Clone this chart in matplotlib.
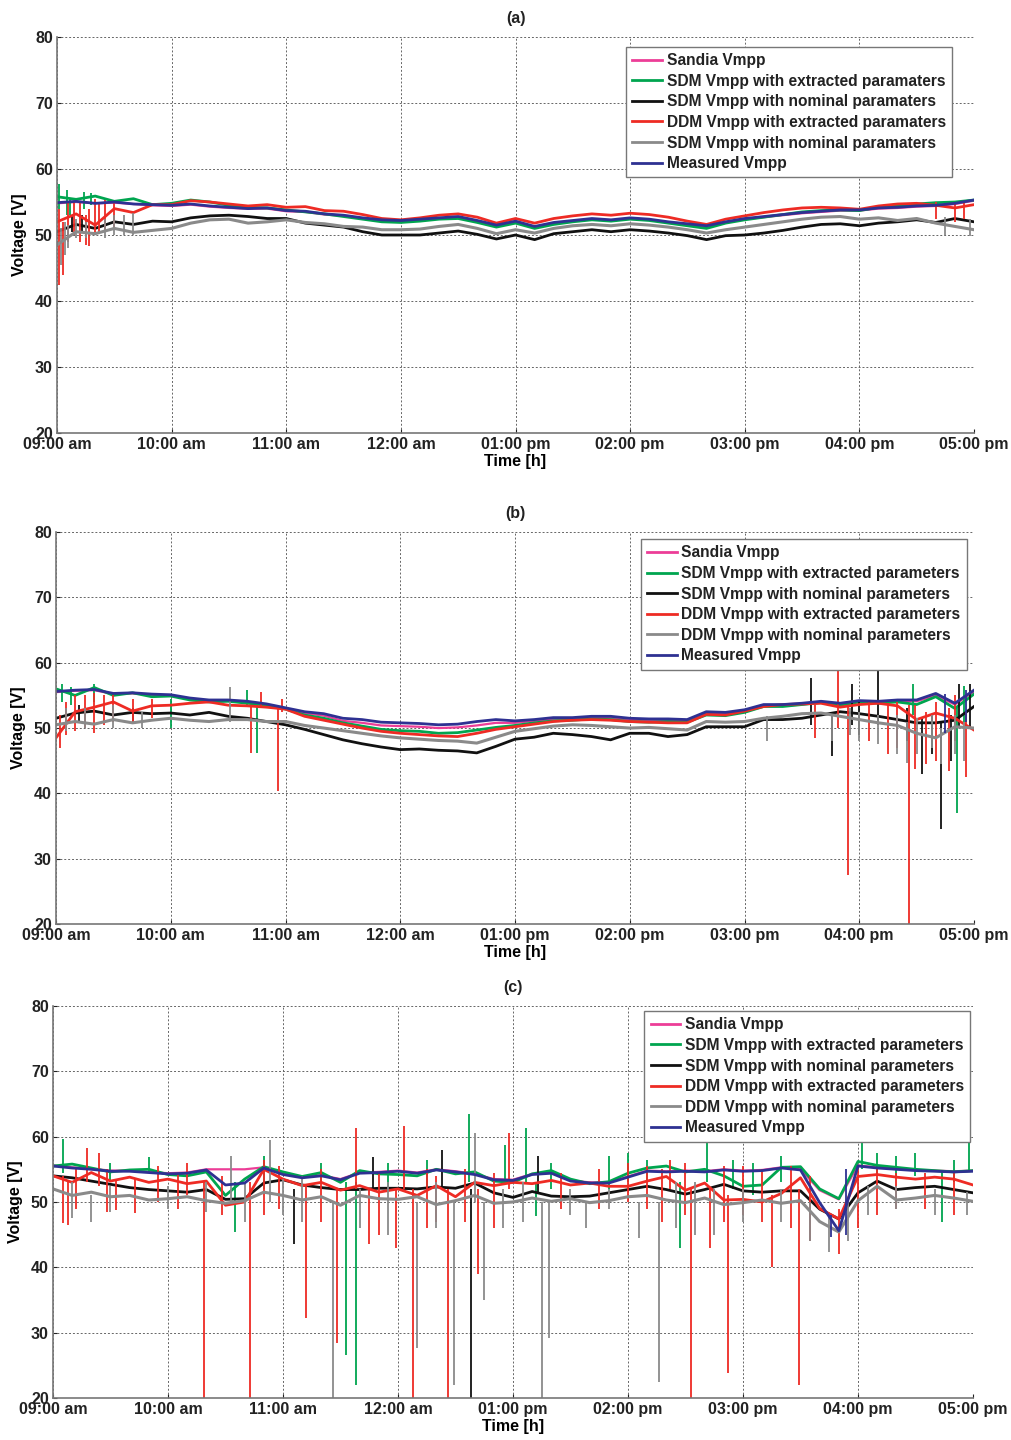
import numpy as np
import matplotlib
matplotlib.use('Agg')
import matplotlib.pyplot as plt

plt.rcParams['font.family'] = ['Liberation Sans', 'DejaVu Sans']
plt.rcParams['font.weight'] = 'bold'
plt.rcParams['text.color'] = '#222222'

# minutes after 09:00, one reading every 10 min
minutos = np.arange(0, 481, 10)

horas = [9, 10, 11, 12, 13, 14, 15, 16, 17]
etiquetas_hora = ['09:00 am', '10:00 am', '11:00 am', '12:00 am', '01:00 pm',
                  '02:00 pm', '03:00 pm', '04:00 pm', '05:00 pm']

# ---------------- (a) ----------------
sandia_a = [54.8, 55.0, 54.8, 54.9, 54.7, 54.5, 54.4, 54.6, 54.3, 54.1, 54.0, 54.0, 53.6,
            53.5, 53.1, 52.9, 52.5, 52.2, 52.1, 52.3, 52.5, 52.7, 52.1, 51.4, 52.0, 51.2,
            51.8, 52.1, 52.4, 52.2, 52.5, 52.3, 51.9, 51.6, 51.2, 51.9, 52.4, 52.7, 53.0,
            53.3, 53.5, 53.7, 53.7, 54.0, 54.1, 54.3, 54.4, 54.7, 55.2]
sdm_ext_a = [55.8, 55.4, 55.9, 55.1, 55.5, 54.6, 54.8, 55.3, 55.0, 54.5, 54.2, 54.1, 53.8,
             53.5, 53.2, 52.8, 52.4, 52.0, 51.9, 52.1, 52.4, 52.5, 51.9, 51.2, 51.8, 51.0,
             51.6, 52.0, 52.3, 52.1, 52.4, 52.2, 51.8, 51.4, 51.0, 51.8, 52.3, 52.7, 53.1,
             53.5, 53.7, 53.8, 53.7, 54.2, 54.5, 54.7, 54.9, 55.0, 55.3]
sdm_nom_a = [50.5, 51.6, 51.0, 52.0, 51.6, 52.1, 52.0, 52.6, 52.9, 53.0, 52.8, 52.5, 52.5,
             51.8, 51.5, 51.2, 50.5, 50.0, 50.0, 50.0, 50.3, 50.6, 50.1, 49.4, 50.0, 49.3,
             50.2, 50.5, 50.8, 50.5, 50.8, 50.6, 50.3, 49.9, 49.3, 49.9, 50.0, 50.3, 50.7,
             51.2, 51.6, 51.7, 51.4, 51.8, 52.0, 52.3, 51.9, 52.5, 52.0]
ddm_ext_a = [52.0, 53.2, 51.5, 54.0, 53.4, 54.6, 54.6, 55.2, 55.0, 54.7, 54.4, 54.6, 54.2,
             54.3, 53.7, 53.6, 53.1, 52.5, 52.3, 52.6, 53.0, 53.2, 52.7, 51.8, 52.5, 51.8,
             52.5, 52.9, 53.2, 53.0, 53.3, 53.1, 52.7, 52.1, 51.6, 52.4, 52.9, 53.4, 53.8,
             54.1, 54.2, 54.1, 53.9, 54.4, 54.7, 54.8, 54.5, 54.1, 54.6]
nom2_a = [48.5, 50.5, 50.2, 51.0, 50.4, 50.7, 51.0, 51.8, 52.3, 52.4, 51.8, 52.0, 52.3,
          51.9, 51.7, 51.3, 51.2, 50.8, 50.8, 50.9, 51.3, 51.6, 51.0, 50.2, 50.8, 50.3,
          51.0, 51.4, 51.6, 51.4, 51.7, 51.5, 51.2, 50.8, 50.3, 50.8, 51.2, 51.6, 52.0,
          52.4, 52.7, 52.8, 52.4, 52.6, 52.2, 52.5, 51.8, 51.3, 50.8]
medido_a = [54.9, 55.1, 54.8, 55.0, 54.7, 54.6, 54.5, 54.7, 54.4, 54.2, 54.0, 54.1, 53.7,
            53.6, 53.2, 53.0, 52.6, 52.3, 52.2, 52.4, 52.6, 52.8, 52.2, 51.5, 52.1, 51.3,
            51.9, 52.2, 52.5, 52.3, 52.6, 52.4, 52.0, 51.7, 51.4, 52.0, 52.5, 52.8, 53.1,
            53.4, 53.6, 53.8, 53.8, 54.1, 54.2, 54.4, 54.5, 54.8, 55.3]

# spikes: (minute, low, high)
picos_sdm_ext_a = [(1, 54.0, 57.8), (5, 53.0, 56.8), (7, 53.0, 55.5), (14, 54.0, 56.5),
                   (18, 54.5, 56.4)]
picos_sdm_nom_a = [(8, 50.5, 53.0), (13, 50.5, 53.0)]
picos_ddm_ext_a = [(1, 42.5, 54.0), (3, 44.0, 52.0), (6, 49.0, 54.8), (9, 50.0, 55.0),
                   (12, 49.0, 55.0), (15, 48.5, 53.0), (17, 48.4, 54.0), (20, 50.0, 55.5),
                   (22, 50.5, 55.0), (25, 50.5, 55.3), (30, 51.0, 55.0), (460, 52.5, 55.0),
                   (470, 52.0, 55.0), (475, 52.5, 54.8)]
picos_nom2_a = [(2, 45.5, 51.0), (4, 47.0, 52.0), (6, 48.0, 51.5), (10, 49.5, 52.5),
                (15, 49.5, 52.0), (25, 49.5, 52.5), (30, 50.0, 53.0), (35, 50.0, 53.0),
                (40, 50.0, 53.3), (465, 50.0, 52.8), (478, 49.8, 52.5)]

# ---------------- (b) ----------------
sandia_b = [55.5, 55.7, 55.8, 55.2, 55.3, 55.1, 55.0, 54.5, 54.2, 54.2, 54.0, 53.6, 53.0,
            52.3, 51.9, 51.1, 50.8, 50.4, 50.3, 50.2, 50.0, 50.1, 50.4, 50.8, 50.8, 51.1,
            51.4, 51.4, 51.6, 51.6, 51.3, 51.2, 51.2, 51.1, 52.3, 52.2, 52.6, 53.4, 53.4,
            53.6, 53.9, 53.6, 54.0, 53.9, 54.1, 54.1, 55.0, 53.6, 55.6]
sdm_ext_b = [56.0, 55.0, 56.2, 55.0, 55.4, 54.8, 54.9, 54.3, 54.0, 54.1, 53.8, 53.5, 52.9,
             52.0, 51.5, 50.8, 50.3, 49.8, 49.6, 49.5, 49.2, 49.3, 49.7, 50.1, 50.4, 50.8,
             51.1, 51.2, 51.4, 51.3, 51.0, 50.9, 51.0, 50.9, 52.0, 51.9, 52.4, 53.3, 53.3,
             53.6, 53.9, 53.5, 54.0, 53.8, 54.0, 53.6, 54.8, 53.0, 55.2]
sdm_nom_b = [51.5, 52.3, 52.6, 52.0, 52.4, 52.2, 52.3, 52.0, 52.4, 51.8, 51.5, 51.0, 50.5,
             49.8, 49.0, 48.2, 47.6, 47.1, 46.7, 46.8, 46.6, 46.5, 46.2, 47.2, 48.3, 48.6,
             49.2, 49.0, 48.7, 48.2, 49.2, 49.2, 48.7, 49.0, 50.2, 50.2, 50.2, 51.3, 51.3,
             51.5, 52.0, 52.5, 52.2, 51.8, 51.3, 50.8, 50.8, 51.2, 53.3]
ddm_ext_b = [48.5, 52.5, 53.2, 54.0, 52.6, 53.4, 53.5, 53.8, 54.0, 53.5, 53.4, 53.2, 52.9,
             51.8, 51.2, 50.6, 50.0, 49.5, 49.2, 49.0, 48.8, 48.7, 49.2, 49.8, 50.2, 50.6,
             51.0, 51.2, 51.3, 51.2, 51.0, 50.9, 50.8, 50.8, 52.1, 52.0, 52.6, 53.3, 53.6,
             53.7, 53.8, 53.2, 53.6, 53.8, 53.4, 51.3, 52.3, 51.5, 49.7]
ddm_nom_b = [50.5, 51.0, 50.6, 51.3, 50.8, 51.2, 51.5, 51.2, 51.0, 51.3, 51.3, 51.0, 51.0,
             50.4, 50.0, 49.6, 49.2, 48.8, 48.5, 48.3, 48.1, 48.0, 47.7, 48.6, 49.5, 49.9,
             50.3, 50.5, 50.4, 50.2, 50.0, 50.1, 49.9, 49.7, 51.0, 50.9, 51.0, 51.5, 51.8,
             52.2, 52.3, 51.8, 51.3, 50.8, 50.4, 49.2, 48.5, 50.2, 50.0]
medido_b = [55.6, 55.8, 55.9, 55.3, 55.4, 55.2, 55.1, 54.6, 54.3, 54.3, 54.1, 53.7, 53.1,
            52.5, 52.2, 51.5, 51.3, 50.9, 50.8, 50.7, 50.5, 50.6, 51.0, 51.3, 51.1, 51.3,
            51.6, 51.6, 51.8, 51.8, 51.5, 51.4, 51.4, 51.3, 52.5, 52.4, 52.8, 53.6, 53.6,
            53.8, 54.1, 53.8, 54.2, 54.1, 54.3, 54.3, 55.3, 53.8, 55.8]

picos_sdm_ext_b = [(3, 54.0, 56.8), (8, 53.5, 56.3), (20, 54.0, 56.8), (60, 50.0, 54.5),
                   (100, 53.5, 55.8), (105, 46.2, 53.5), (448, 52.0, 56.7), (471, 37.0, 53.0),
                   (475, 51.0, 56.5)]
picos_sdm_nom_b = [(12, 51.0, 53.5), (40, 51.0, 53.0), (395, 50.5, 57.6), (406, 45.7, 52.5),
                   (416, 50.5, 56.8), (420, 49.0, 54.0), (430, 50.5, 59.4), (445, 48.0, 53.0),
                   (453, 43.0, 51.5), (458, 46.0, 52.0), (463, 34.6, 51.0), (468, 45.0, 52.0),
                   (472, 50.0, 56.8), (478, 50.0, 56.8)]
picos_ddm_ext_b = [(2, 47.0, 52.0), (5, 49.0, 54.0), (10, 49.5, 55.0), (15, 50.0, 55.0),
                   (20, 49.3, 55.3), (25, 50.5, 55.0), (30, 51.0, 55.0), (40, 51.0, 54.5),
                   (50, 51.5, 54.5), (102, 46.2, 53.5), (107, 53.0, 55.5), (116, 40.3, 53.0),
                   (118, 52.5, 54.5), (397, 48.5, 53.6), (409, 50.0, 62.0), (414, 27.5, 53.5),
                   (425, 48.0, 54.0), (435, 46.0, 53.8), (440, 47.0, 54.0), (446, 20.0, 53.5),
                   (449, 43.8, 53.5), (455, 44.5, 52.5), (460, 45.0, 54.0), (467, 43.5, 53.0),
                   (470, 48.0, 55.0), (476, 42.5, 52.5)]
picos_ddm_nom_b = [(5, 49.5, 53.0), (15, 50.0, 53.0), (30, 50.0, 53.5), (45, 50.0, 52.5),
                   (91, 51.0, 56.3), (372, 48.0, 51.8), (406, 48.0, 52.0), (415, 49.0, 53.0),
                   (420, 48.0, 52.5), (430, 47.5, 52.0), (440, 46.0, 52.0), (445, 44.7, 51.0),
                   (450, 46.0, 51.5), (458, 47.0, 52.0), (463, 44.5, 50.0), (470, 46.0, 52.0),
                   (475, 45.0, 51.0)]
picos_medido_b = [(465, 49.2, 55.2), (476, 51.0, 55.8)]

# ---------------- (c) ----------------
sandia_c = [55.6, 55.3, 55.1, 54.8, 54.8, 54.6, 54.4, 54.5, 55.0, 55.0, 55.0, 55.3, 54.3,
            53.8, 54.1, 53.5, 54.5, 54.6, 54.8, 54.5, 55.0, 54.7, 54.3, 53.5, 53.4, 54.3,
            54.5, 53.3, 53.0, 53.0, 53.9, 54.8, 54.7, 54.8, 54.7, 55.0, 54.8, 54.9, 55.3,
            55.0, 51.8, 50.4, 55.6, 55.3, 55.1, 54.9, 54.8, 54.7, 54.8]
sdm_ext_c = [55.5, 55.8, 55.2, 54.6, 54.9, 55.0, 54.2, 54.0, 54.6, 51.0, 53.5, 55.4, 54.6,
             53.9, 54.5, 53.0, 54.8, 54.3, 54.2, 54.0, 55.0, 54.3, 54.6, 53.2, 53.0, 54.3,
             54.8, 53.5, 52.8, 53.1, 54.4, 55.2, 55.5, 54.6, 55.0, 54.0, 52.4, 52.6, 55.3,
             55.4, 52.0, 50.5, 56.2, 55.6, 55.3, 55.0, 54.8, 54.6, 54.8]
sdm_nom_c = [54.0, 53.7, 53.2, 52.7, 52.2, 51.9, 51.7, 51.5, 51.9, 50.4, 50.5, 52.9, 53.4,
             52.6, 52.2, 51.9, 51.9, 52.1, 52.1, 52.0, 52.3, 52.1, 52.9, 51.4, 50.7, 51.6,
             50.9, 50.8, 50.9, 51.4, 51.9, 52.4, 51.9, 51.2, 51.9, 52.7, 51.7, 51.5, 51.7,
             51.7, 48.9, 47.4, 51.4, 53.2, 51.9, 52.2, 52.4, 51.9, 51.4]
ddm_ext_c = [54.0, 53.0, 54.5, 53.2, 53.8, 53.0, 53.5, 52.8, 53.2, 49.5, 50.0, 55.0, 53.5,
             52.5, 53.0, 51.8, 52.5, 51.5, 52.0, 51.0, 52.5, 50.8, 53.0, 52.5, 53.0, 52.8,
             53.3, 52.6, 52.9, 52.4, 52.4, 53.2, 53.9, 51.8, 52.9, 50.3, 50.4, 50.0, 51.3,
             53.7, 49.0, 47.4, 53.9, 54.2, 53.8, 53.5, 53.8, 53.5, 52.6]
ddm_nom_c = [52.0, 51.0, 51.5, 50.8, 51.0, 50.3, 50.5, 50.8, 50.2, 49.8, 50.2, 51.5, 51.0,
             50.3, 50.8, 49.5, 51.0, 50.5, 50.4, 50.8, 49.6, 50.2, 51.0, 49.8, 50.0, 50.6,
             50.1, 50.5, 49.9, 50.2, 50.8, 51.0, 50.3, 49.9, 50.6, 49.6, 49.9, 50.3, 49.8,
             50.2, 47.0, 45.4, 50.2, 52.4, 50.3, 50.6, 51.0, 50.6, 50.1]
medido_c = [55.5, 55.2, 55.0, 54.7, 54.7, 54.5, 54.3, 54.4, 54.9, 52.6, 52.9, 55.2, 54.2,
            53.7, 54.0, 53.4, 54.4, 54.5, 54.7, 54.4, 54.9, 54.6, 54.2, 53.4, 53.3, 54.2,
            54.4, 53.2, 52.9, 52.9, 53.8, 54.7, 54.6, 54.7, 54.6, 54.9, 54.7, 54.8, 55.2,
            54.9, 49.9, 45.6, 55.5, 55.2, 55.0, 54.8, 54.7, 54.6, 54.7]

picos_sdm_ext_c = [(5, 54.5, 59.6), (30, 53.0, 56.0), (50, 54.5, 56.9), (95, 45.4, 53.0),
                   (110, 52.0, 57.0), (140, 53.0, 56.0), (153, 26.5, 53.0), (158, 22.0, 53.0),
                   (175, 52.0, 56.0), (195, 52.0, 56.5), (217, 53.0, 63.5), (236, 53.0, 58.7),
                   (247, 53.0, 61.3), (252, 47.9, 53.0), (260, 52.0, 56.0), (290, 52.0, 57.0),
                   (300, 53.0, 57.5), (310, 53.0, 56.5), (327, 43.0, 53.0), (341, 53.0, 60.5),
                   (355, 52.0, 56.5), (365, 51.0, 56.0), (380, 53.0, 57.0), (422, 55.0, 60.3),
                   (430, 54.0, 57.5), (440, 54.0, 57.0), (450, 54.0, 57.5), (464, 47.0, 54.6),
                   (470, 53.0, 56.5), (478, 54.6, 61.0)]
picos_sdm_nom_c = [(126, 43.5, 52.0), (167, 52.0, 56.9), (203, 52.0, 58.0), (218, 20.0, 52.0),
                   (253, 51.5, 57.0)]
picos_ddm_ext_c = [(5, 46.8, 54.0), (8, 46.5, 53.0), (12, 49.0, 55.0), (18, 53.0, 58.3),
                   (24, 52.5, 57.5), (28, 48.5, 55.0), (33, 48.7, 53.5), (43, 48.3, 53.5),
                   (55, 50.0, 55.5), (65, 49.0, 54.5), (70, 51.0, 56.0), (79, 20.0, 53.0),
                   (88, 48.0, 54.0), (103, 20.0, 53.0), (110, 48.0, 56.5), (118, 49.0, 55.5),
                   (132, 32.2, 52.5), (140, 47.0, 55.0), (148, 28.4, 52.0), (158, 52.0, 61.3),
                   (165, 43.6, 52.0), (170, 45.0, 54.5), (179, 43.0, 52.0), (183, 52.0, 61.7),
                   (188, 20.0, 52.0), (195, 46.0, 55.0), (200, 47.0, 54.0), (206, 20.0, 52.0),
                   (215, 47.0, 55.0), (222, 39.0, 52.0), (230, 46.0, 54.5), (238, 52.0, 60.6),
                   (265, 49.0, 54.5), (285, 49.0, 55.0), (300, 50.0, 56.0), (310, 49.0, 55.5),
                   (318, 47.0, 55.0), (322, 52.0, 56.5), (330, 48.0, 56.0), (333, 20.0, 52.0),
                   (343, 43.0, 52.0), (350, 47.0, 55.5), (352, 23.8, 51.0), (360, 48.0, 55.5),
                   (370, 47.0, 55.0), (375, 40.0, 51.0), (385, 46.0, 55.5), (389, 22.0, 52.0),
                   (395, 44.0, 54.0), (410, 42.0, 49.0), (420, 46.0, 55.0), (430, 48.0, 55.0),
                   (440, 49.0, 54.5), (455, 49.0, 54.5), (470, 48.0, 54.5)]
picos_ddm_nom_c = [(10, 47.5, 53.0), (20, 46.9, 51.0), (30, 48.5, 52.5), (60, 49.0, 52.5),
                   (80, 48.5, 53.0), (93, 50.0, 57.0), (100, 47.0, 53.0), (113, 50.0, 59.5),
                   (120, 48.0, 53.5), (130, 47.0, 54.0), (146, 20.0, 50.0), (160, 46.0, 52.0),
                   (175, 45.0, 53.0), (190, 27.6, 50.0), (200, 46.0, 53.0), (209, 22.0, 50.0),
                   (220, 50.0, 60.5), (225, 35.0, 50.0), (235, 46.0, 52.0), (245, 47.0, 53.0),
                   (255, 20.0, 50.0), (259, 29.2, 50.0), (270, 48.0, 52.0), (278, 46.0, 50.0),
                   (290, 49.0, 52.0), (306, 44.5, 50.0), (316, 22.5, 50.0), (325, 46.0, 53.0),
                   (335, 45.0, 53.0), (345, 45.0, 52.0), (360, 47.0, 52.0), (380, 47.0, 52.0),
                   (395, 44.0, 50.0), (405, 42.3, 48.0), (415, 44.0, 50.0), (425, 48.0, 52.5),
                   (440, 49.0, 52.5), (460, 48.0, 52.0), (477, 48.0, 51.5)]
picos_medido_c = [(406, 44.6, 48.0), (414, 45.0, 55.0)]

colores = ['#ec3d97', '#00a54f', '#111111', '#ee2b24', '#8a8a8a', '#2e3192']
grosores = [1.6, 2.0, 2.0, 2.0, 2.2, 2.0]

nombres_ab = ['Sandia Vmpp', 'SDM Vmpp with extracted paramaters',
              'SDM Vmpp with nominal paramaters', 'DDM Vmpp with extracted paramaters',
              'SDM Vmpp with nominal paramaters', 'Measured Vmpp']
nombres_bc = ['Sandia Vmpp', 'SDM Vmpp with extracted parameters',
              'SDM Vmpp with nominal parameters', 'DDM Vmpp with extracted parameters',
              'DDM Vmpp with nominal parameters', 'Measured Vmpp']

paneles = [
    dict(rect=[0.0564, 0.6993, 0.907, 0.2750], titulo='(a)', nombres=nombres_ab,
         series=[sandia_a, sdm_ext_a, sdm_nom_a, ddm_ext_a, nom2_a, medido_a],
         picos=[[], picos_sdm_ext_a, picos_sdm_nom_a, picos_ddm_ext_a, picos_nom2_a, []],
         leyenda=(0.976, 0.975)),
    dict(rect=[0.0554, 0.3583, 0.908, 0.2722], titulo='(b)', nombres=nombres_bc,
         series=[sandia_b, sdm_ext_b, sdm_nom_b, ddm_ext_b, ddm_nom_b, medido_b],
         picos=[[], picos_sdm_ext_b, picos_sdm_nom_b, picos_ddm_ext_b, picos_ddm_nom_b,
                picos_medido_b],
         leyenda=(0.992, 0.982)),
    dict(rect=[0.0524, 0.0292, 0.910, 0.2722], titulo='(c)', nombres=nombres_bc,
         series=[sandia_c, sdm_ext_c, sdm_nom_c, ddm_ext_c, ddm_nom_c, medido_c],
         picos=[[], picos_sdm_ext_c, picos_sdm_nom_c, picos_ddm_ext_c, picos_ddm_nom_c,
                picos_medido_c],
         leyenda=(0.997, 0.987)),
]

fig = plt.figure(figsize=(10.11, 14.4), dpi=100)

t = 9 + minutos / 60
for p in paneles:
    ax = fig.add_axes(p['rect'])
    for serie, picos, color, lw, nombre in zip(p['series'], p['picos'], colores, grosores,
                                               p['nombres']):
        ax.plot(t, serie, color=color, lw=lw, label=nombre)
        if picos:
            pm = np.array(picos)
            ax.vlines(9 + pm[:, 0] / 60, pm[:, 1], pm[:, 2], colors=color, lw=1.3)

    ax.set_xlim(9, 17)
    ax.set_ylim(20, 80)
    ax.set_xticks(horas)
    ax.set_xticklabels(etiquetas_hora)
    ax.set_yticks([20, 30, 40, 50, 60, 70, 80])
    ax.tick_params(direction='in', length=3, labelsize=11.5, colors='#222222',
                   pad=3)
    ax.grid(True, linestyle=(0, (2, 2)), color='#666666', lw=0.7)
    for lado in ['top', 'right']:
        ax.spines[lado].set_visible(False)
    for lado in ['left', 'bottom']:
        ax.spines[lado].set_color('#777777')
        ax.spines[lado].set_linewidth(1.2)

    ax.set_title(p['titulo'], fontsize=11.5, fontweight='bold', pad=10)
    ax.set_xlabel('Time [h]', fontsize=11.5, fontweight='bold', labelpad=1)
    ax.set_ylabel('Voltage [V]', fontsize=11.5, fontweight='bold', labelpad=6)

    leg = ax.legend(loc='upper right', bbox_to_anchor=p['leyenda'], fontsize=11.2,
                    handlelength=1.9, handletextpad=0.3, labelspacing=0.36,
                    borderpad=0.4, fancybox=False, framealpha=1, borderaxespad=0)
    leg.get_frame().set_edgecolor('#777777')
    leg.get_frame().set_linewidth(1.0)
    for linea in leg.get_lines():
        linea.set_linewidth(2)

fig.savefig('out.png', dpi=100)
